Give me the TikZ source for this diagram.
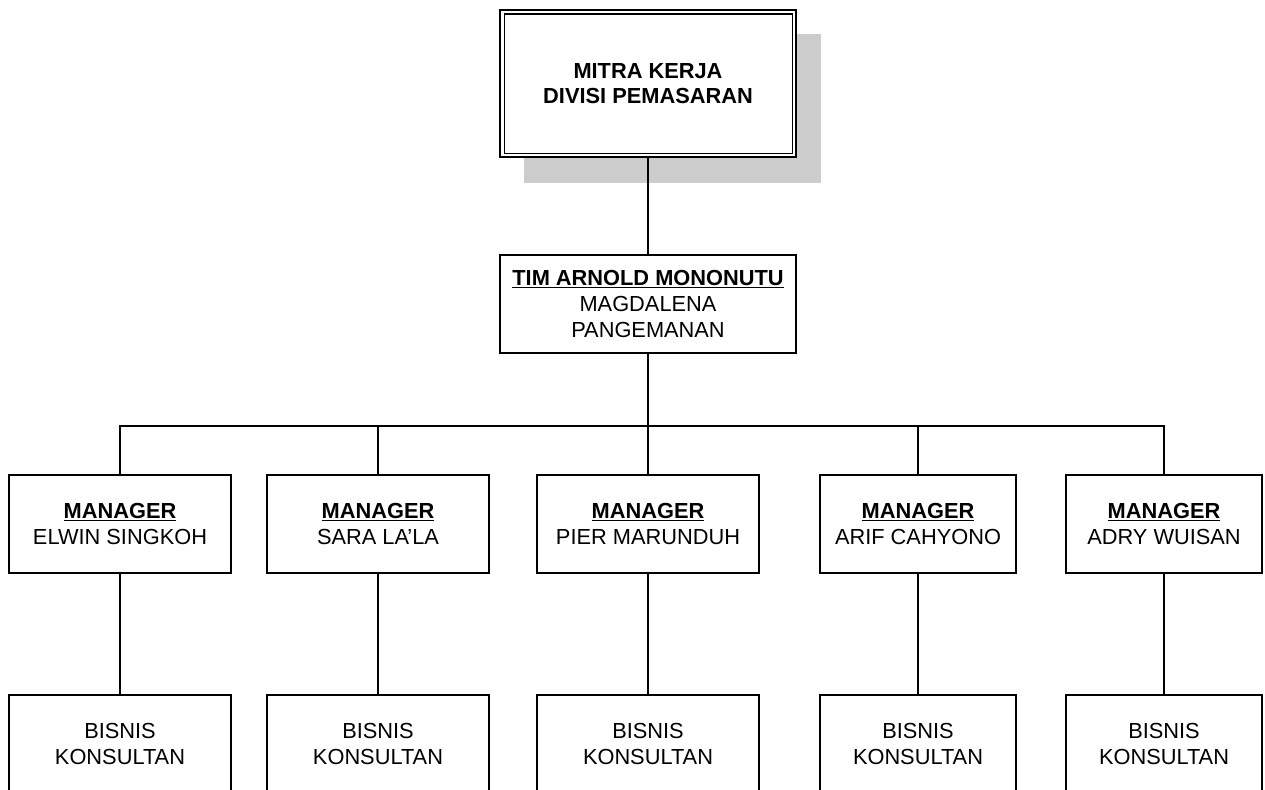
\documentclass[tikz,border=0pt]{standalone}
\usepackage{fontspec}
\setmainfont{Liberation Sans}
\definecolor{shadowgray}{RGB}{204,204,204}
% underline drawn as a thin rule just below the baseline
\newlength\undlw
\newcommand\undl[1]{\settowidth\undlw{#1}\rlap{\rule[-2.6pt]{\undlw}{1.4pt}}#1}
\begin{document}
\begin{tikzpicture}[x=1pt,y=-1pt,line width=1.4pt,
  box/.style={draw,rectangle,inner sep=0pt,align=center,minimum height=98pt,
    font=\fontsize{21.8}{26}\selectfont},
  widebox/.style={box,minimum width=222pt},
  narrowbox/.style={box,minimum width=196pt},
  link/.style={draw,line width=1.4pt}]
\useasboundingbox (0,0) rectangle (1265,789);
\clip (0,0) rectangle (1265,789);

% head box with drop shadow and double frame
\fill[shadowgray] (524,34) rectangle (821,183);
\node[draw,fill=white,rectangle,inner sep=0pt,align=center,
  minimum width=296pt,minimum height=147pt,line width=1.5pt,
  font=\fontsize{21.8}{25}\selectfont\bfseries] (top) at (648,83.5)
  {MITRA KERJA\\DIVISI PEMASARAN};
\draw[line width=1.5pt] ([shift={(5,5)}]top.north west) rectangle ([shift={(-4.5,-4.5)}]top.south east);

% team leader
\node[box,minimum width=296pt] (mid) at (648,304)
  {\textbf{\undl{TIM ARNOLD MONONUTU}}\\MAGDALENA\\PANGEMANAN};

% managers
\node[widebox]   (m1) at (120,524)  {\textbf{\undl{MANAGER}}\\ELWIN SINGKOH};
\node[widebox]   (m2) at (378,524)  {\textbf{\undl{MANAGER}}\\SARA LA’LA};
\node[widebox]   (m3) at (648,524)  {\textbf{\undl{MANAGER}}\\PIER MARUNDUH};
\node[narrowbox] (m4) at (918,524)  {\textbf{\undl{MANAGER}}\\ARIF CAHYONO};
\node[narrowbox] (m5) at (1164,524) {\textbf{\undl{MANAGER}}\\ADRY WUISAN};

% consultants
\node[widebox]   (b1) at (120,744)  {BISNIS\\KONSULTAN};
\node[widebox]   (b2) at (378,744)  {BISNIS\\KONSULTAN};
\node[widebox]   (b3) at (648,744)  {BISNIS\\KONSULTAN};
\node[narrowbox] (b4) at (918,744)  {BISNIS\\KONSULTAN};
\node[narrowbox] (b5) at (1164,744) {BISNIS\\KONSULTAN};

% connectors
\coordinate (bus) at (648,426);
\path[link] (top.south) -- (mid.north);
\path[link] (mid.south) -- (bus);
\foreach \i in {1,...,5}{
  \path[link] (bus) -| (m\i.north);
  \path[link] (m\i.south) -- (b\i.north);
}
\end{tikzpicture}
\end{document}
